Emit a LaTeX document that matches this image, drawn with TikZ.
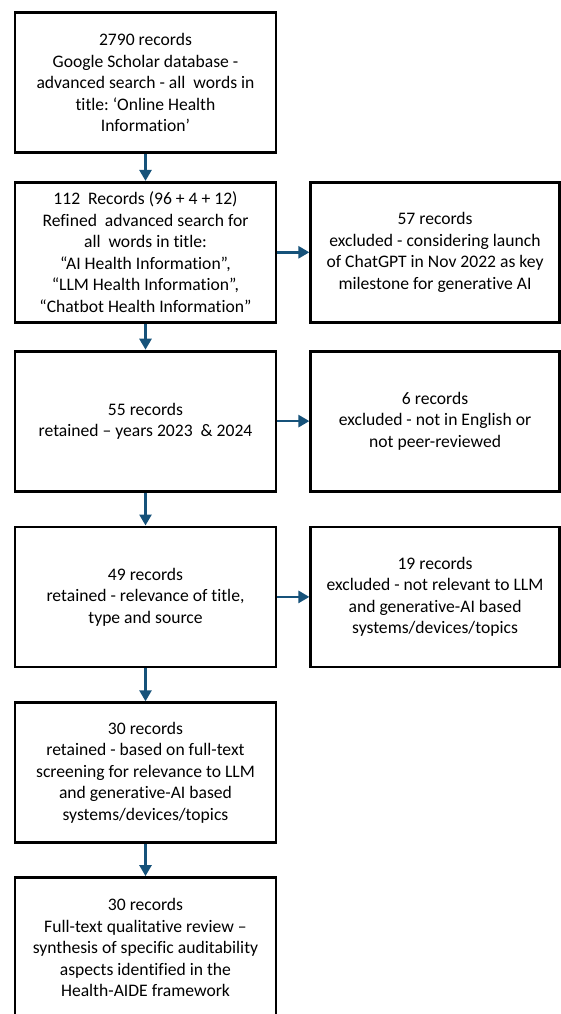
\documentclass[tikz,border=0pt]{standalone}
\usepackage{fontspec}
\setmainfont{Carlito}[Ligatures=NoCommon]
\usepackage{xcolor}
\usetikzlibrary{arrows.meta, positioning}
\definecolor{flowblue}{RGB}{22,82,122}
\frenchspacing

\begin{document}
\begin{tikzpicture}[
    x=1pt, y=1pt,
    node distance=27pt and 32pt,
    box/.style={rectangle, draw=black, line width=2.8pt, minimum width=#1, minimum height=140pt, align=center, inner sep=2pt, font=\fontsize{17.6pt}{21.5pt}\selectfont},
    box/.default={261pt},
    arrow/.style={-{Triangle[length=11pt, width=12pt]}, line width=2.6pt, color=flowblue},
]
\useasboundingbox (0,0) rectangle (561,-1014);

% ── Main column ──
\node[box] (search) at (145.5,-82.5) {2790 records\\Google Scholar database -\\advanced search - all\ \ words in\\title: ‘Online Health\\Information’};
\node[box, below=27pt of search] (refined) {112\ \ Records (96 + 4 + 12)\\Refined\ \ advanced search for\\all\ \ words in title:\\“AI Health Information”,\\“LLM Health Information”,\\“Chatbot Health Information”};
\node[box, below=26pt of refined] (years) {55 records\\retained – years 2023\ \ \& 2024};
\node[box, below=33pt of years] (relevance) {49 records\\retained - relevance of title,\\type and source};
\node[box, below=33pt of relevance] (fulltext) {30 records\\retained - based on full-text\\screening for relevance to LLM\\and generative-AI based\\systems/devices/topics};
\node[box, below=32pt of fulltext] (review) {30 records\\Full-text qualitative review –\\synthesis of specific auditability\\aspects identified in the\\Health-AIDE framework};

% ── Exclusions ──
\node[box=248.5pt, right=32pt of refined] (excl_launch) {57 records\\excluded - considering launch\\of ChatGPT in Nov 2022 as key\\milestone for generative AI};
\node[box=248.5pt, right=32pt of years] (excl_lang) {6 records\\excluded - not in English or\\not peer-reviewed};
\node[box=248.5pt, right=32pt of relevance] (excl_topic) {19 records\\excluded - not relevant to LLM\\and generative-AI based\\systems/devices/topics};

% ── Arrows: main flow ──
\draw[arrow] (search) -- (refined);
\draw[arrow] (refined) -- (years);
\draw[arrow] (years) -- (relevance);
\draw[arrow] (relevance) -- (fulltext);
\draw[arrow] (fulltext) -- (review);

% ── Arrows: exclusions ──
\draw[arrow] (refined) -- (excl_launch);
\draw[arrow] (years) -- (excl_lang);
\draw[arrow] (relevance) -- (excl_topic);

\end{tikzpicture}
\end{document}
